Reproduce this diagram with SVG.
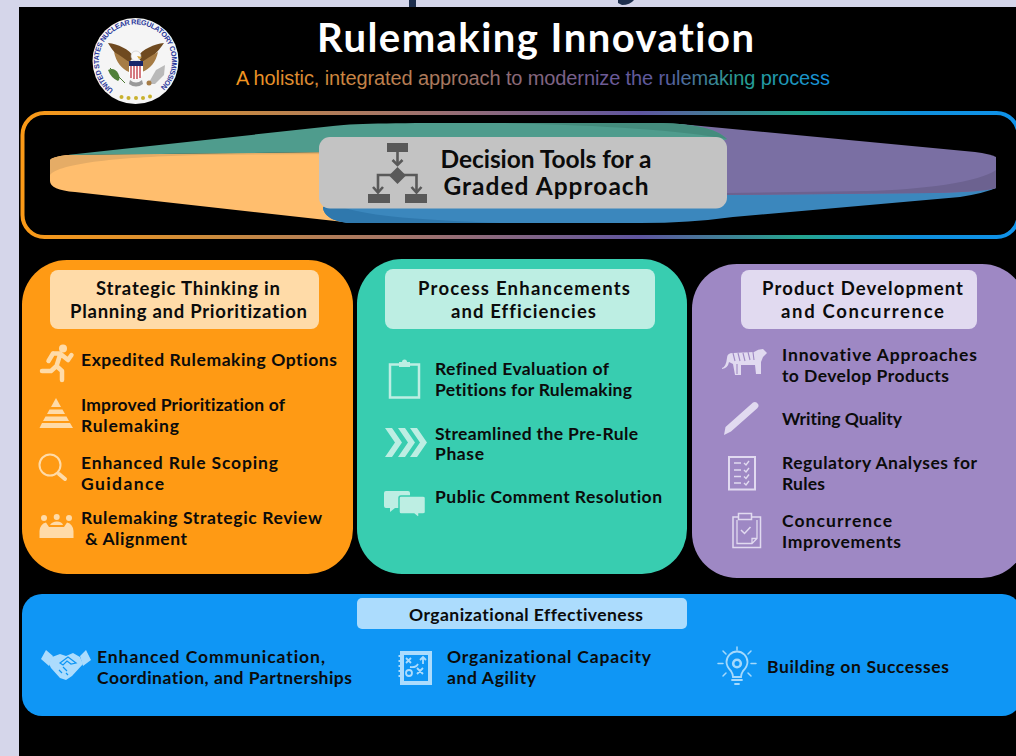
<svg xmlns="http://www.w3.org/2000/svg" width="1016" height="756" viewBox="0 0 1016 756">
<style>
text{font-family:"Lato","Open Sans","Liberation Sans",sans-serif;font-weight:700;fill:#0b0b0b;font-size:17.5px;font-variant-ligatures:none}
.h{font-size:18.5px}
.t{font-size:24.5px}
.o{fill:#ffdba8}
.os{fill:none;stroke:#ffdba8;stroke-linecap:round;stroke-linejoin:round}
.g{fill:#bdeee3}
.gs{fill:none;stroke:#bdeee3}
.p{fill:#e1daf0}
.ps{fill:none;stroke:#e1daf0}
.b{fill:#acdcfd}
.bs{fill:none;stroke:#a5d9fc;stroke-linecap:round}
.k{fill:#595959}
.ks{fill:none;stroke:#595959;stroke-width:2.6}
</style>
<defs>
<linearGradient id="fr" gradientUnits="userSpaceOnUse" x1="22" y1="0" x2="1018" y2="0">
<stop offset="0" stop-color="#fb9a17"/><stop offset=".2" stop-color="#c98a3f"/><stop offset=".42" stop-color="#9a6f72"/><stop offset=".62" stop-color="#5f559f"/><stop offset=".78" stop-color="#25a58f"/><stop offset=".9" stop-color="#1090dc"/><stop offset="1" stop-color="#0f92ea"/>
</linearGradient>
<linearGradient id="sub" gradientUnits="userSpaceOnUse" x1="236" y1="0" x2="830" y2="0">
<stop offset="0" stop-color="#f7941d"/><stop offset=".35" stop-color="#a8785f"/><stop offset=".62" stop-color="#6d5a96"/><stop offset=".72" stop-color="#5a5aa0"/><stop offset=".85" stop-color="#27a08f"/><stop offset="1" stop-color="#1590e0"/>
</linearGradient>
<path id="sealArc" d="M113.500,90 A36.500,36.500 0 1 1 158.500,89"/>
</defs>
<rect width="1016" height="756" fill="#d5d6ea"/>
<rect x="19" y="7" width="997" height="749" fill="#000"/>
<g id="title-remnants" fill="#1e2f4e"><rect x="409" y="0" width="7" height="7"/><path d="M618,0H634Q630,5 622,5L618,3Z"/></g>
<g id="seal">
<circle cx="135.500" cy="61" r="43" fill="#f5f5f5"/>
<text style="font-size:7.200px;fill:#27359a;font-family:'Liberation Sans',sans-serif"><textPath href="#sealArc" textLength="178" lengthAdjust="spacing">UNITED STATES NUCLEAR REGULATORY COMMISSION</textPath></text>
<path d="M129,62C121,60 113,52 108,43C118,44 129,49 134,57ZM142,62C150,60 158,52 164,43C154,44 143,49 137,57Z" fill="#6f4a20"/>
<path d="M129,72C122,69 116,62 114,52C120,55 125,59 130,63ZM142,72C150,69 156,62 158,52C152,55 146,59 141,63Z" fill="#a67c45"/>
<ellipse cx="136" cy="56" rx="5" ry="5" fill="#f8f8f8" stroke="#bbb" stroke-width=".5"/>
<path d="M137,56l5,1-3,2z" fill="#d8a534"/>
<rect x="129" y="61" width="14" height="5" fill="#17256a"/>
<path d="M129,66h14v7q0,4-7,7q-7-3-7-7z" fill="#fff"/>
<path d="M131,66v12M134,66v13M137,66v13M140,66v12" stroke="#c8505a" stroke-width="1.500"/>
<path d="M130,80q6,5 12,0l1,4q-7,5-14,0z" fill="#999"/>
<path d="M110,68l15,15" stroke="#4c7a32" stroke-width="1"/><path d="M108,70q6-3 10,3q3,6 0,8q-7-3-10-11z" fill="#4f7f38"/>
<path d="M148,84l8-14l9-5l-1,10l-9,9z" fill="#b9b9b9"/><circle cx="149" cy="83" r="2.500" fill="#a67c45"/>
<g fill="#c9b22e"><circle cx="121.500" cy="97" r="2"/><circle cx="128.500" cy="98" r="2"/><circle cx="136" cy="98" r="2"/><circle cx="143" cy="98" r="2"/><circle cx="150" cy="96.500" r="2"/></g>
</g>
<g id="heading">
<text x="317" y="52" textLength="437" style="font-size:40px;fill:#fff">Rulemaking Innovation</text>
<text x="236" y="85" textLength="594" style="font-family:'Liberation Sans',sans-serif;font-weight:400;font-size:20px;fill:url(#sub)">A holistic, integrated approach to modernize the rulemaking process</text>
</g>
<g id="decision-frame">
<rect x="22.500" y="113" width="996" height="124" rx="22" fill="none" stroke="url(#fr)" stroke-width="4"/>
</g>
<g id="decision-lens">
<path d="M50,160Q52,157 67,155L360,152V223H353L75,192Q50,190 50,181Z" fill="#ffbe6e"/>
<path d="M50,160Q52,157 67,155L340,152V154L200,155C120,157 60,163 50,175Z" fill="#e5ac66"/>
<path d="M335,200L996,188Q985,193 960,197L733,217Q690,223 640,223H353C335,223 323,216 323,207Z" fill="#3b87bd"/>
<path d="M323,207L345,208C370,216 420,220 500,223H353C335,223 323,216 323,207Z" fill="#2f78ad"/>
<path d="M680,124L975,152Q990,154 996,157V188Q985,192 933,193L727,195H680Z" fill="#7a6fa3"/>
<path d="M996,170C980,182 920,190 867,191L727,193V195L933,193Q985,192 996,188Z" fill="#6c6290"/>
<path d="M67,155L333,126C360,123 400,123 480,123H650C695,123 717,129 727,139L700,150L340,152Z" fill="#4f9c8d"/>
<path d="M500,123H650C695,123 717,129 727,139C680,130 600,125 500,123Z" fill="#448c7d"/>
<rect x="319" y="137" width="408" height="71.500" rx="11" fill="#c3c3c3"/>
<g id="decision-icon">
<rect class="k" x="387" y="143" width="21" height="9"/>
<path class="ks" d="M397.500,152V163M378,192V175H416.500V192"/>
<path class="k" d="M397.500,167L406,175.500L397.500,184L389,175.500Z"/>
<path class="ks" d="M392.500,160L397.500,165L402.500,160M373,187L378,192.500L383,187M411.500,187L416.500,192.500L421.500,187"/>
<rect class="k" x="368" y="194" width="22" height="9"/><rect class="k" x="405" y="194" width="22" height="9"/>
</g>
<text class="t" x="440.500" y="167.500" textLength="211">Decision Tools for a</text>
<text class="t" x="443.500" y="195" textLength="205">Graded Approach</text>
</g>
<g id="card-strategic">
<rect x="22" y="260" width="331" height="314" rx="45" fill="#ff9a14"/>
<rect class="o" x="50" y="270" width="269" height="59" rx="8"/>
<text class="h" x="96" y="295" textLength="184">Strategic Thinking in</text>
<text class="h" x="70" y="318" textLength="237">Planning and Prioritization</text>
<g id="icon-run"><circle class="o" cx="63" cy="348.500" r="4"/><path class="os" stroke-width="4.500" d="M60,355L56.500,366L62,371V380M56.500,366L51,371H42M53,353.500H60L68,360L71.500,355M53,353.500L48.500,361"/></g>
<text x="81" y="365.500" textLength="256">Expedited Rulemaking Options</text>
<g id="icon-pyramid" class="o"><path d="M56,398L61,407H51Z"/><path d="M49.500,409.500H62.500L65,414H47Z"/><path d="M45.500,416.500H66.500L69,421H43Z"/><path d="M42,423H70L73,428H39.500Z"/></g>
<text x="81" y="411" textLength="204">Improved Prioritization of</text>
<text x="81" y="432" textLength="98">Rulemaking</text>
<g id="icon-search"><circle class="os" cx="50" cy="465" r="10.500" stroke-width="2"/><path class="os" stroke-width="4" d="M59,474L65,479"/></g>
<text x="81" y="469" textLength="197">Enhanced Rule Scoping</text>
<text x="81" y="490" textLength="83">Guidance</text>
<g id="icon-people" class="o"><circle cx="44" cy="518" r="3"/><circle cx="56.700" cy="517" r="3"/><circle cx="69" cy="518" r="3"/><path d="M39.500,538V531Q40,524 46,522.500L49,527H64L67,522.500Q73,524 73.500,531V538Z"/><path d="M50,525Q52,521.500 57,521.500Q62,521.500 63,525Z"/></g>
<text x="81" y="524" textLength="241">Rulemaking Strategic Review</text>
<text x="85" y="545" textLength="102">&amp; Alignment</text>
</g>
<g id="card-process">
<rect x="357" y="259" width="330" height="315" rx="45" fill="#38cdb0"/>
<rect class="g" x="385" y="269" width="270" height="60" rx="8"/>
<text class="h" x="418" y="295" textLength="212">Process Enhancements</text>
<text class="h" x="451" y="318" textLength="145">and Efficiencies</text>
<g id="icon-clipboard"><rect class="gs" stroke-width="2.500" x="390" y="364.500" width="29" height="33"/><rect class="g" x="399" y="362" width="11" height="5"/><circle class="g" cx="404.500" cy="362" r="2.500"/></g>
<text x="435" y="375" textLength="174">Refined Evaluation of</text>
<text x="435" y="396" textLength="197">Petitions for Rulemaking</text>
<g id="icon-chevrons" class="g"><path d="M385,428h7l10,14.500l-10,14.500h-7l10-14.500z"/><path d="M398,428h7l10,14.500l-10,14.500h-7l10-14.500z"/><path d="M410,428h7l10,14.500l-10,14.500h-7l10-14.500z"/></g>
<text x="435" y="440" textLength="203">Streamlined the Pre-Rule</text>
<text x="435" y="460" textLength="49">Phase</text>
<g id="icon-chat"><path class="g" d="M386,491H408Q410,491 410,493V508H395L390,512V508H386Q384,508 384,506V493Q384,491 386,491Z"/><path class="g" stroke="#38cdb0" stroke-width="1.500" d="M401,496H423Q425.500,496 425.500,498V512Q425.500,514 423,514H419V518L414,514H401Q399,514 399,512V498Q399,496 401,496Z"/></g>
<text x="435" y="503" textLength="227">Public Comment Resolution</text>
</g>
<g id="card-product">
<rect x="692" y="264" width="335" height="314" rx="45" fill="#9e88c4"/>
<rect class="p" x="741" y="270" width="236" height="59" rx="8"/>
<text class="h" x="762" y="295" textLength="201">Product Development</text>
<text class="h" x="781" y="318" textLength="163">and Concurrence</text>
<g id="icon-tiger"><path class="p" d="M722,368Q726,367 727,358Q727,353 733,353L754,352Q758,349 763,349L767,353L763,357L761,362V374H756L755,365H741V375H735L733,364L729,362Q728,368 722,369Z"/><path d="M733,353l2,8M738,353l2,8M743,353l2,8M748,352l2,8M753,352l1,8M737,364v10M752,365v9" stroke="#9e88c4" stroke-width="1.100" fill="none"/></g>
<text x="782" y="361" textLength="195">Innovative Approaches</text>
<text x="782" y="382" textLength="167">to Develop Products</text>
<g id="icon-pencil"><path class="p" d="M753,402.500Q756,401 758,404Q759.500,406 757,408.500L731,431.500L724,435L725.500,427Z"/></g>
<text x="782" y="425" textLength="120">Writing Quality</text>
<g id="icon-checklist"><rect class="ps" stroke-width="2" x="729" y="457" width="26" height="32.500"/><path class="ps" stroke-width="1.400" d="M734,463h7M734,470h7M734,476.500h7M734,483h7M744,463l2,2l3-4M744,470l2,2l3-4M744,476.500l2,2l3-4M744,483l2,2l3-4"/></g>
<text x="782" y="469" textLength="195">Regulatory Analyses for</text>
<text x="782" y="489.500" textLength="43">Rules</text>
<g id="icon-concurrence"><rect class="ps" stroke-width="1.500" x="733" y="517" width="27.500" height="30.500"/><path class="ps" stroke-width="1.300" d="M737,520V543.500H752L757,538.500V520M752,543.500V538.500H757"/><rect x="738.500" y="513.500" width="13" height="6" fill="#9e88c4" stroke="#e1daf0" stroke-width="1.500"/><path class="ps" stroke-width="1.500" d="M741,530l3.500,3.500l6-6.500"/></g>
<text x="782" y="527" textLength="110">Concurrence</text>
<text x="782" y="547.500" textLength="119">Improvements</text>
</g>
<g id="card-organizational">
<rect x="22" y="594" width="1000" height="122" rx="20" fill="#0f96f5"/>
<rect class="b" x="357" y="598" width="330" height="31" rx="5"/>
<text x="409" y="621" textLength="234">Organizational Effectiveness</text>
<g id="icon-handshake"><path class="b" d="M46,650L41,659L49,666L53,656ZM86,650L91,660L83,666L80,656Z"/><path class="b" d="M52,657L60,654L66,656L73,653L80,657L83,664L72,676L66,680L60,678L51,668L49,664Z"/><path d="M60,663L68,657L76,663L71,664L67,661L63,665ZM59,670l3,3M63,667l4,4M66,673l2,2" stroke="#0f96f5" stroke-width="1.200" fill="none"/></g>
<text x="97" y="663" textLength="228">Enhanced Communication,</text>
<text x="97" y="684" textLength="255">Coordination, and Partnerships</text>
<g id="icon-strategy"><rect class="b" x="400" y="651" width="32" height="34"/><path class="b" d="M398.500,655h2v2h-2zM398.500,660h2v2h-2zM398.500,665h2v2h-2zM398.500,670h2v2h-2zM398.500,675h2v2h-2z"/><rect x="404" y="655" width="24" height="26" fill="#0f96f5"/><path d="M406,658l5,5M411,658l-5,5M417,668l6,6M423,668l-6,6M423,664v-7M420,660l3-3l3,3M410,667q6,1 8-3" stroke="#acdcfd" stroke-width="1.800" fill="none"/><circle cx="409" cy="673" r="3" fill="none" stroke="#acdcfd" stroke-width="1.800"/></g>
<text x="447" y="663" textLength="204">Organizational Capacity</text>
<text x="447" y="684" textLength="89">and Agility</text>
<g id="icon-bulb"><path class="bs" stroke-width="1.800" d="M731,671C727,667 726.500,664 726.500,662A10.500,10.500 0 1 1 747.500,662C747.500,664 747,667 743,671Q741,674 741,677H733Q733,674 731,671ZM732,680H742M735,684H739"/><path class="bs" stroke-width="1.500" d="M718,663.500H723M751,663.500H756M737,647V650M723,651L726,654M751,651L748,654M723,676L726,673M751,676L748,673"/><circle cx="737" cy="663.500" r="3.800" fill="none" stroke="#a5d9fc" stroke-width="2.600"/></g>
<text x="767" y="673" textLength="182">Building on Successes</text>
</g>
</svg>
